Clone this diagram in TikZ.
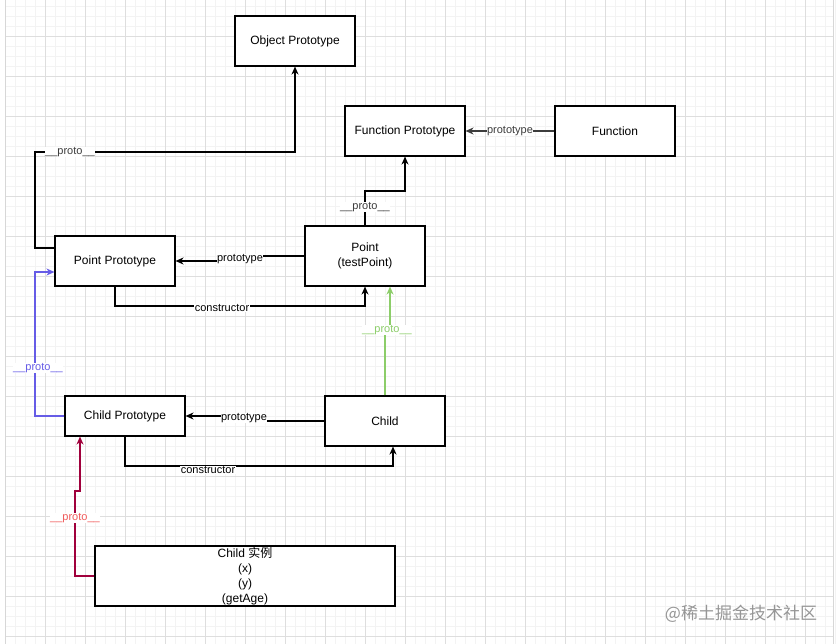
\documentclass[tikz,border=0pt]{standalone}
\usepackage{fontspec}
\setmainfont{Liberation Sans}
\newfontfamily\cjk{Noto Sans CJK SC}
\usetikzlibrary{arrows.meta}
\definecolor{gridminor}{RGB}{243,243,243}
\definecolor{gridmajor}{RGB}{222,222,222}
\definecolor{edgegray}{RGB}{215,215,215}
\definecolor{protoblue}{RGB}{102,92,230}
\definecolor{protogreen}{RGB}{140,205,105}
\definecolor{protored}{RGB}{160,0,60}
\definecolor{protolabelred}{RGB}{240,90,90}
\definecolor{labelgray}{RGB}{60,60,60}
\definecolor{wmgray}{RGB}{150,150,150}
\tikzset{
  box/.style={draw=black, line width=1.1pt, fill=white, minimum width=120pt,
    minimum height=50pt, inner sep=0pt, align=center, font=\fontsize{12}{15}\selectfont},
  conn/.style={line width=1.1pt, -{Stealth[length=8pt,width=7pt,inset=2.5pt]}},
  lbl/.style={fill=white, inner sep=0.5pt, font=\fontsize{11}{13}\selectfont},
}
\begin{document}
\begin{tikzpicture}[x=1pt,y=-1pt]
\useasboundingbox (0,0) rectangle (839,644);
\fill[white] (0,0) rectangle (839,644);
% grid
\foreach \x in {5,15,...,835} \draw[gridminor, line width=0.6pt] (\x,0) -- (\x,644);
\foreach \y in {6,16,...,644} \draw[gridminor, line width=0.6pt] (5,\y) -- (833,\y);
\foreach \x in {5,45,...,835} \draw[gridmajor, line width=0.7pt] (\x,0) -- (\x,644);
\foreach \y in {36,76,...,644} \draw[gridmajor, line width=0.7pt] (5,\y) -- (833,\y);
\draw[edgegray, line width=1pt] (5,0) -- (5,644);
\draw[edgegray, line width=1pt] (833,0) -- (833,644);

% nodes
\node[box] (obj) at (295,41) {Object Prototype};
\node[box] (fp) at (405,131) {Function Prototype};
\node[box] (fn) at (615,131) {Function};
\node[box] (pp) at (115,261) {Point Prototype};
\node[box, minimum height=60pt] (pt) at (365,256) {Point\\(testPoint)};
\node[box, minimum height=40pt] (cp) at (125,416) {Child Prototype};
\node[box] (ch) at (385,421) {Child};
\node[box, minimum width=300pt, minimum height=60pt] (inst) at (245,576)
  {Child {\cjk 实例}\\(x)\\(y)\\(getAge)};

% connectors
\draw[conn] ([yshift=13pt]pp.west) -- (35,248) -- (35,152) -- (295,152) -- (obj.south);
\node[lbl, text=labelgray] (l1) at (70,152) {\_\_proto\_\_};

\draw[conn, draw=labelgray] (fn.west) -- (fp.east);
\node[lbl, text=labelgray] (l2) at (510,131) {prototype};

\draw[conn] (pt.north) -- (365,191) -- (405,191) -- (fp.south);
\node[lbl, text=labelgray] (l3) at (365,207) {\_\_proto\_\_};

\draw[conn] (pt.west) -- (240,256) -- (240,261) -- (pp.east);
\node[lbl] (l4) at (240,259) {prototype};

\draw[conn] (pp.south) -- (115,306) -- (365,306) -- (pt.south);
\node[lbl] (l5) at (222,308) {constructor};

\draw[conn, draw=protogreen, line width=1.3pt] (ch.north) -- (385,333) -- (390,333) -- ([xshift=25pt]pt.south);
\node[lbl, text=protogreen] (l6) at (387,330) {\_\_proto\_\_};

\draw[conn] (ch.west) -- (244,421) -- (244,416) -- (cp.east);
\node[lbl] (l7) at (244,418) {prototype};

\draw[conn] (cp.south) -- (125,466) -- (393,466) -- ([xshift=8pt]ch.south);
\node[lbl] (l8) at (208,470) {constructor};

\draw[conn, draw=protoblue, line width=1.3pt] (cp.west) -- (35,416) -- (35,272) -- ([yshift=-11pt]pp.west);
\node[lbl, text=protoblue] (l9) at (38,368) {\_\_proto\_\_};

\draw[conn, draw=protored, line width=1.3pt] (inst.west) -- (75,576) -- (75,491) -- (80,491) -- ([xshift=-45pt]cp.south);
\node[lbl, text=protolabelred] (l10) at (75,518) {\_\_proto\_\_};

% watermark
\node[text=wmgray, inner sep=0pt, font=\fontsize{17}{20}\selectfont] (wm) at (741,614) {\cjk @稀土掘金技术社区};
\end{tikzpicture}
\end{document}
